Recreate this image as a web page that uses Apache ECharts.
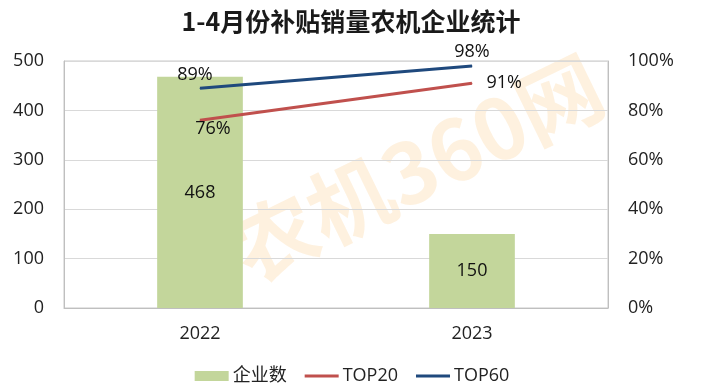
<!DOCTYPE html>
<html>
<head>
<meta charset="utf-8">
<script src="https://cdn.jsdelivr.net/npm/echarts@6/dist/echarts.min.js"></script>
<style>html,body{margin:0;padding:0;background:#fff}#c{width:704px;height:392px}</style>
</head>
<body>
<div id="c"></div>
<script>
var titleText = '1-4月份补贴销量农机企业统计';
var categories = ['2022', '2023'];
var companyCount = [468, 150];
var top20 = [76, 91];
var top60 = [89, 98];
var leftTicks = [0, 100, 200, 300, 400, 500];
var rightTicks = [0, 20, 40, 60, 80, 100];

var FONT = '"Open Sans","Noto Sans CJK SC",sans-serif';
var FS = 18;
var LINE_ICON = 'path://M0,0 L34,0 L34,3 L0,3 Z';
var chart = echarts.init(document.getElementById('c'));
chart.setOption({
  animation: false,
  backgroundColor: '#fff',
  title: {
    text: titleText, left: 346, top: 4, textAlign: 'center',
    textStyle: { fontFamily: '"Noto Sans CJK SC",sans-serif', fontWeight: 'bold', fontSize: 25, color: '#1a1a1a' }
  },
  graphic: [{
    type: 'text', z: -10, x: 417, y: 168, rotation: 26 * Math.PI / 180,
    style: { text: '农机360网', fontSize: 84, fontWeight: 'bold', fontFamily: '"Noto Sans CJK SC",sans-serif',
      fill: 'rgba(250,190,110,0.22)', align: 'center', verticalAlign: 'middle' }
  }],
  grid: { left: 64, right: 96, top: 61, bottom: 84, show: true, borderColor: '#c8c8c8', borderWidth: 1 },
  legend: {
    bottom: 2, left: 'center', itemGap: 18, itemWidth: 34, itemHeight: 10,
    textStyle: { fontFamily: FONT, fontSize: FS, color: '#222', padding: [0, 0, 0, -1] },
    data: [{ name: '企业数', icon: 'rect' }, { name: 'TOP20', icon: LINE_ICON }, { name: 'TOP60', icon: LINE_ICON }]
  },
  xAxis: {
    type: 'category', data: categories,
    axisLine: { lineStyle: { color: '#bfbfbf' } },
    axisTick: { inside: true, length: 6, lineStyle: { color: '#bfbfbf' } },
    axisLabel: { fontFamily: FONT, fontSize: FS, color: '#222', margin: 17 }
  },
  yAxis: [{
    type: 'value', min: 0, max: 500, interval: 100,
    axisLine: { show: true, lineStyle: { color: '#bfbfbf' } }, axisTick: { show: false },
    axisLabel: { fontFamily: FONT, fontSize: FS, color: '#222', margin: 20 },
    splitLine: { lineStyle: { color: '#d9d9d9' } }
  }, {
    type: 'value', min: 0, max: 100, interval: 20,
    axisLine: { show: true, lineStyle: { color: '#bfbfbf' } }, axisTick: { show: false },
    axisLabel: { fontFamily: FONT, fontSize: FS, color: '#222', margin: 20, formatter: '{value}%' },
    splitLine: { show: false }
  }],
  series: [{
    name: '企业数', type: 'bar', data: companyCount, barWidth: '31.5%',
    itemStyle: { color: '#c3d69b' },
    label: { show: true, position: 'inside', fontFamily: FONT, fontSize: FS, color: '#111' }
  }, {
    name: 'TOP20', type: 'line', yAxisIndex: 1, symbol: 'circle', symbolSize: 1, showSymbol: true,
    lineStyle: { color: '#c0504d', width: 3 }, itemStyle: { color: '#c0504d' },
    data: [
      { value: top20[0], label: { position: 'bottom', offset: [13, -6] } },
      { value: top20[1], label: { position: 'right', offset: [9, 0] } }
    ],
    label: { show: true, fontFamily: FONT, fontSize: FS, color: '#111', formatter: '{c}%' }
  }, {
    name: 'TOP60', type: 'line', yAxisIndex: 1, symbol: 'circle', symbolSize: 1, showSymbol: true,
    lineStyle: { color: '#1f497d', width: 3 }, itemStyle: { color: '#1f497d' },
    data: [
      { value: top60[0], label: { position: 'top', offset: [-5, 1] } },
      { value: top60[1], label: { position: 'top', offset: [0, 0] } }
    ],
    label: { show: true, fontFamily: FONT, fontSize: FS, color: '#111', formatter: '{c}%' }
  }]
});
</script>
</body>
</html>
